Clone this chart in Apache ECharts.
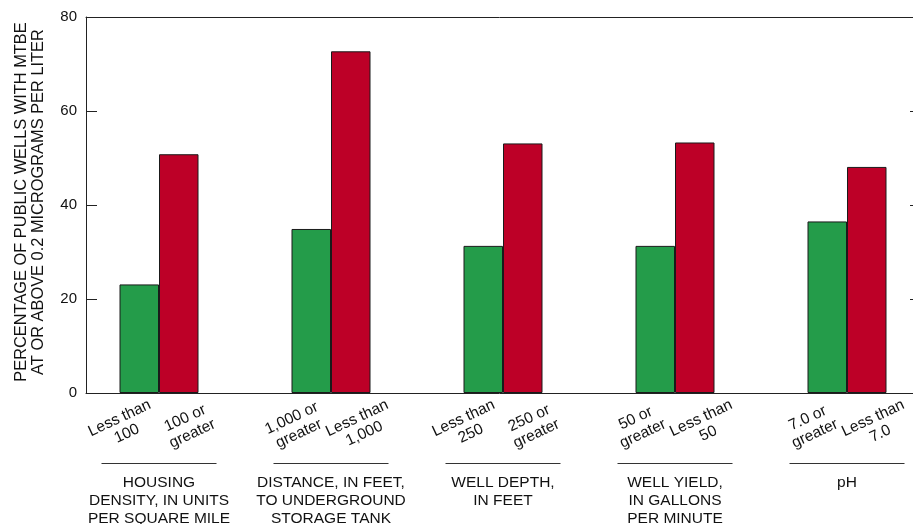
<!DOCTYPE html>
<html>
<head>
<meta charset="utf-8">
<script src="https://cdn.jsdelivr.net/npm/echarts@6/dist/echarts.min.js"></script>
<style>
  html, body { margin: 0; padding: 0; background: #fff; }
  #chart { width: 913px; height: 524px; }
</style>
</head>
<body>
<div id="chart"></div>
<script>
// Factor groups along the bottom
const groups = [
  'HOUSING\nDENSITY, IN UNITS\nPER SQUARE MILE',
  'DISTANCE, IN FEET,\nTO UNDERGROUND\nSTORAGE TANK',
  'WELL DEPTH,\nIN FEET',
  'WELL YIELD,\nIN GALLONS\nPER MINUTE',
  'pH'
];
// Class labels under each bar
const lowRiskLabels = ['Less than\n100', '1,000 or\ngreater', 'Less than\n250', '50 or\ngreater', '7.0 or\ngreater'];
const highRiskLabels = ['100 or\ngreater', 'Less than\n1,000', '250 or\ngreater', 'Less than\n50', 'Less than\n7.0'];
// Percentage of wells with MTBE at or above 0.2 µg/L
const lowRiskValues = [23.1, 34.9, 31.3, 31.3, 36.5];
const highRiskValues = [50.8, 72.7, 53.1, 53.3, 48.1];
const yTicks = [0, 20, 40, 60, 80];

const FONT = '"Liberation Sans", Arial, Helvetica, sans-serif';
const INK = '#111';
const FRAME = '#222';
const LABEL_ANGLE = 25;
const TICK_LEN = 11;
const PLOT_TOP = 17;
const PLOT_HEIGHT = 376;

const chart = echarts.init(document.getElementById('chart'), null, { renderer: 'canvas' });

// Label offsets are given in the rotated text frame, so turn a screen
// displacement (right, down) into that frame.
function rotatedOffset(dx, dy) {
  const a = LABEL_ANGLE * Math.PI / 180;
  return [dx * Math.cos(a) - dy * Math.sin(a), dx * Math.sin(a) + dy * Math.cos(a)];
}

function barLabel(texts, shift) {
  return {
    show: true,
    position: ['50%', '100%'],
    offset: rotatedOffset(shift[0], shift[1]),
    rotate: LABEL_ANGLE,
    align: 'center',
    verticalAlign: 'middle',
    fontFamily: FONT,
    fontSize: 15.5,
    lineHeight: 17,
    color: INK,
    formatter: p => texts[p.dataIndex]
  };
}

// top and bottom frame lines
const frameX = (position) => ({
  gridIndex: 2,
  type: 'value',
  min: 0,
  max: 1,
  position,
  axisLine: { show: true, onZero: false, lineStyle: { color: FRAME, width: 1 } },
  axisTick: { show: false },
  axisLabel: { show: false },
  splitLine: { show: false }
});

const scaleY = (gridIndex, position) => ({
  gridIndex,
  type: 'value',
  min: yTicks[0],
  max: yTicks[yTicks.length - 1],
  interval: yTicks[1] - yTicks[0],
  position,
  splitLine: { show: false }
});

chart.setOption({
  animation: false,
  backgroundColor: '#fff',
  grid: [
    // left/right frame with the value scale
    { left: 86, right: 0, top: PLOT_TOP, height: PLOT_HEIGHT, outerBoundsMode: 'none' },
    // category points for the bar pairs
    { left: 159, right: 66, top: PLOT_TOP, height: PLOT_HEIGHT, outerBoundsMode: 'none' },
    // top/bottom frame lines
    { left: 86, right: 0, top: PLOT_TOP, height: PLOT_HEIGHT, outerBoundsMode: 'none' }
  ],
  xAxis: [
    { gridIndex: 0, type: 'value', min: 0, max: 1, show: false },
    {
      gridIndex: 1,
      type: 'category',
      boundaryGap: false,
      data: groups,
      axisLine: { show: false, onZero: false },
      axisTick: { show: false },
      splitLine: { show: false },
      axisLabel: {
        interval: 0,
        margin: 70,
        fontFamily: FONT,
        color: INK,
        formatter: v => '{rule|}\n{gap| }\n' + v.split('\n').map(s => '{t|' + s + '}').join('\n'),
        rich: {
          rule: { width: 115, height: 1, lineHeight: 1, backgroundColor: '#333', align: 'center' },
          gap: { fontSize: 1, lineHeight: 10, align: 'center' },
          t: { fontFamily: FONT, fontSize: 15.5, lineHeight: 18, color: INK, align: 'center' }
        }
      }
    },
    frameX('top'),
    frameX('bottom')
  ],
  yAxis: [
    // left frame line, inward ticks, tick values and axis title
    Object.assign(scaleY(0, 'left'), {
      axisLine: { show: true, lineStyle: { color: FRAME, width: 1 } },
      axisTick: { show: true, inside: true, length: TICK_LEN, lineStyle: { color: FRAME, width: 1 } },
      axisLabel: { show: true, margin: 9, fontFamily: FONT, fontSize: 15, color: INK },
      name: 'PERCENTAGE OF PUBLIC WELLS WITH MTBE\nAT OR ABOVE 0.2 MICROGRAMS PER LITER',
      nameLocation: 'middle',
      nameGap: 39,
      nameTextStyle: { fontFamily: FONT, fontSize: 16.4, lineHeight: 17, color: INK, padding: [0, 0, 0, 6] }
    }),
    // right frame ticks, pointing into the plot
    Object.assign(scaleY(0, 'right'), {
      offset: 8,
      axisLine: { show: true, onZero: false, lineStyle: { color: FRAME, width: 1 } },
      axisTick: { show: true, inside: true, length: TICK_LEN, lineStyle: { color: FRAME, width: 1 } },
      axisLabel: { show: false }
    }),
    Object.assign(scaleY(1, 'left'), { show: false }),
    Object.assign(scaleY(2, 'left'), { show: false })
  ],
  series: [
    {
      type: 'bar',
      xAxisIndex: 1,
      yAxisIndex: 2,
      clip: false,
      data: lowRiskValues,
      barWidth: 39.5,
      barGap: '0%',
      itemStyle: { color: '#249c4a', borderColor: '#1a1a1a', borderWidth: 1 },
      label: barLabel(lowRiskLabels, [-16, 33])
    },
    {
      type: 'bar',
      xAxisIndex: 1,
      yAxisIndex: 2,
      clip: false,
      data: highRiskValues,
      barWidth: 39.5,
      barGap: '0%',
      itemStyle: { color: '#bd0027', borderColor: '#1a1a1a', borderWidth: 1 },
      label: barLabel(highRiskLabels, [10, 33])
    }
  ]
});
</script>
</body>
</html>
